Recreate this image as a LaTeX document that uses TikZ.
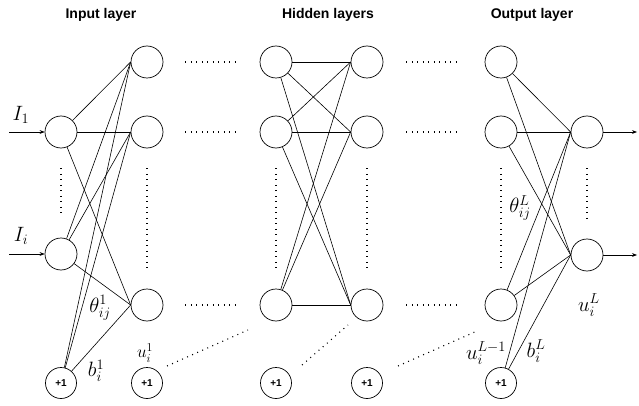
\documentclass[tikz,border=0pt]{standalone}
\usepackage{fontspec}
\setsansfont{Liberation Sans}
\usetikzlibrary{arrows.meta}

\begin{document}
\begin{tikzpicture}[x=1pt, y=-1pt,
    neuron/.style={circle, draw, line width=0.7pt, minimum size=32pt, inner sep=0pt},
    bias/.style={circle, draw, line width=0.7pt, minimum size=31pt, inner sep=0pt,
                 font=\sffamily\bfseries\fontsize{10}{12}\selectfont},
    title/.style={font=\sffamily\bfseries\fontsize{14}{16}\selectfont},
    lbl/.style={font=\fontsize{21}{24}\selectfont, inner sep=0pt},
    conn/.style={line width=0.6pt},
    dots/.style={line width=1.1pt, dash pattern=on 1pt off 4.5pt},
    arrow/.style={-{Stealth[length=5pt]}, line width=0.6pt},
]
\useasboundingbox (0,0) rectangle (639,406);

% Titles
\node[title] (tin) at (101,15) {Input layer};
\node[title] (thid) at (328,15) {Hidden layers};
\node[title] (tout) at (532,15) {Output layer};

% Input layer
\node[neuron] (a1) at (61,132) {};
\node[neuron] (a2) at (61,254) {};
\node[bias] (ab) at (61,383) {+1};

% Hidden layers
\node[neuron] (b1) at (147,62) {};
\node[neuron] (b2) at (147,132) {};
\node[neuron] (b3) at (147,305) {};
\node[bias] (bb) at (147,383) {+1};

\node[neuron] (c1) at (276,62) {};
\node[neuron] (c2) at (276,132) {};
\node[neuron] (c3) at (276,305) {};
\node[bias] (cb) at (276,383) {+1};

\node[neuron] (d1) at (367,62) {};
\node[neuron] (d2) at (367,132) {};
\node[neuron] (d3) at (367,305) {};
\node[bias] (db) at (367,383) {+1};

\node[neuron] (e1) at (501,62) {};
\node[neuron] (e2) at (501,132) {};
\node[neuron] (e3) at (501,305) {};
\node[bias] (eb) at (501,383) {+1};

% Output layer
\node[neuron] (o1) at (587,132) {};
\node[neuron] (o2) at (587,255) {};

% Inputs and outputs
\coordinate (in1) at (9,132);
\coordinate (in2) at (9,254);
\coordinate (out1) at (637,132);
\coordinate (out2) at (637,255);
\draw[arrow] (in1) -- (a1);
\draw[arrow] (in2) -- (a2);
\draw[arrow] (o1) -- (out1);
\draw[arrow] (o2) -- (out2);

% Weights
\foreach \s in {a1,a2,ab}
  \foreach \t in {b1,b2,b3}
    \draw[conn] (\s) -- (\t.west);
\foreach \s in {c1,c2,c3}
  \foreach \t in {d1,d2,d3}
    \draw[conn] (\s) -- (\t.west);
\foreach \s in {e1,e2,e3,eb}
  \foreach \t in {o1,o2}
    \draw[conn] (\s) -- (\t.west);

% Dots between layers
\foreach \s/\t in {b1/c1,b2/c2,b3/c3}
  \draw[dots, shorten <=22pt, shorten >=22pt] (\s) -- (\t);
\foreach \s/\t in {d1/e1,d2/e2,d3/e3}
  \draw[dots, shorten <=23pt, shorten >=27pt] (\s) -- (\t);
\foreach \s/\t in {a1/a2,b2/b3,c2/c3,d2/d3,e2/e3,o1/o2}
  \draw[dots, shorten <=20pt, shorten >=20pt] (\s) -- (\t);

% Dots towards the bias units
\coordinate (p1) at (167,366);
\coordinate (q1) at (248,330);
\coordinate (p2) at (302,365);
\coordinate (q2) at (348,325);
\coordinate (p3) at (398,366);
\coordinate (q3) at (477,331);
\draw[dots] (p1) -- (q1);
\draw[dots] (p2) -- (q2);
\draw[dots] (p3) -- (q3);

% Labels
\node[lbl] (li1) at (21,115) {$I_1$};
\node[lbl] (lii) at (21,236) {$I_i$};
\node[lbl] (lth1) at (100,308) {$\theta^1_{ij}$};
\node[lbl] (lb1) at (96,371) {$b^1_i$};
\node[lbl, font=\fontsize{18}{21}\selectfont] (lu1) at (145,353) {$u^1_i$};
\node[lbl] (lthL) at (520,208) {$\theta^L_{ij}$};
\node[lbl] (luL1) at (486,353) {$u^{L-1}_i$};
\node[lbl] (lbL) at (536,351) {$b^L_i$};
\node[lbl] (luL) at (589,305) {$u^L_i$};

\end{tikzpicture}
\end{document}
